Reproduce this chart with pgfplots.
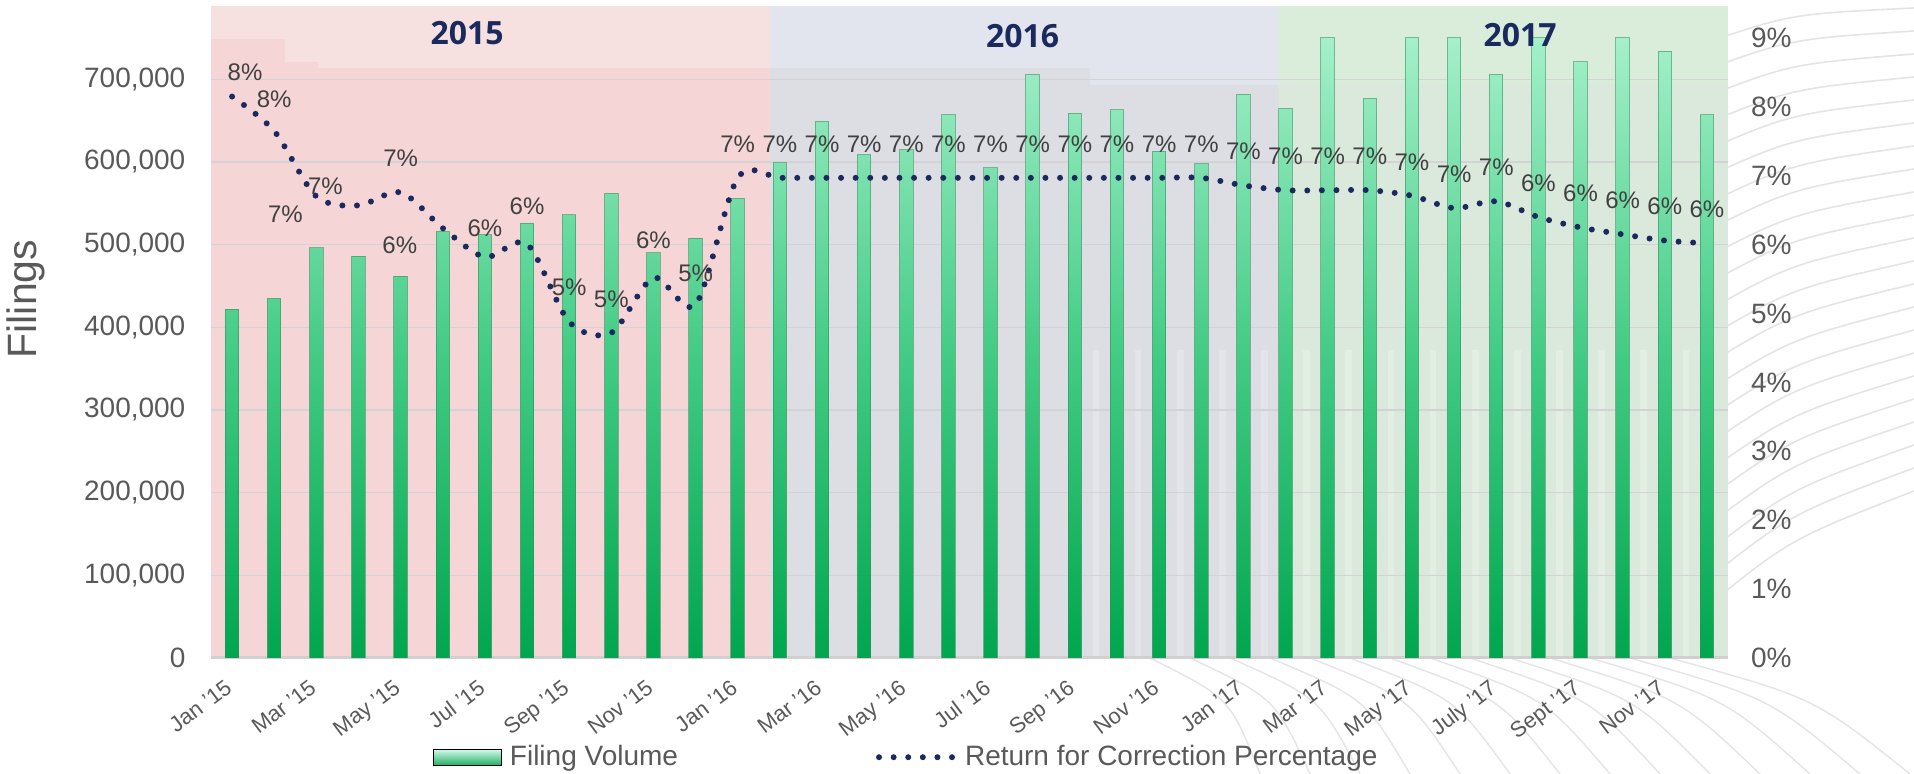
\documentclass[border=0pt]{standalone}
\usepackage{fontspec}
\setmainfont{Liberation Sans}
\newfontfamily\yearfont{Open Sans}
\usepackage{pgfplots}
\pgfplotsset{compat=1.18}
\usepackage{pgfplotstable}

\definecolor{pinkbg}{HTML}{F5D5D5}
\definecolor{pinkband}{HTML}{F6E0E0}
\definecolor{greybg}{HTML}{DCDEE4}
\definecolor{greyband}{HTML}{E3E5EE}
\definecolor{greystripe}{HTML}{E3E5EB}
\definecolor{greenbg}{HTML}{DAE9DB}
\definecolor{greenband}{HTML}{D9EDDA}
\definecolor{greenstripe}{HTML}{E3EFE3}
\definecolor{barTop}{HTML}{A4F0CA}
\definecolor{barMid}{HTML}{45CC86}
\definecolor{barBot}{HTML}{00A64E}
\definecolor{barEdge}{HTML}{2E8F5A}
\definecolor{swTop}{HTML}{D6FAEE}
\definecolor{swBot}{HTML}{22B064}
\definecolor{navy}{HTML}{1B2A5E}
\definecolor{ticktext}{HTML}{595959}
\definecolor{labeltext}{HTML}{404040}
\definecolor{gridgray}{HTML}{D3D3D6}
\definecolor{basegray}{HTML}{D0D0D0}
\definecolor{decogray}{HTML}{E4E4E8}

\pgfplotstableread{
x vol
0 422000
1 435000
2 496000
3 486000
4 462000
5 516000
6 512000
7 526000
8 536000
9 562000
10 490000
11 508000
12 556000
13 599000
14 649000
15 609000
16 615000
17 657000
18 593000
19 706000
20 659000
21 663000
22 613000
23 598000
24 682000
25 665000
26 750000
27 677000
28 750000
29 750000
30 706000
31 750000
32 721000
33 750000
34 734000
35 657000
}\voltable

\pgfplotstableread{
x pct lab dx dy
0 8.15 8 6.5 12
1 7.65 8 0 16
2 6.70 7 -15.5 -9
3 6.57 7 -16.5 9.5
4 6.76 7 0 17
5 6.24 6 -21.5 -8.5
6 5.82 6 0 14.5
7 6.01 6 0 19
8 4.88 5 0 17.5
9 4.72 5 0 17
10 5.52 6 0 18.5
11 5.13 5 0 15.5
12 6.97 7 0 17
13 6.97 7 0 17
14 6.97 7 0 17
15 6.97 7 0 17
16 6.97 7 0 17
17 6.97 7 0 17
18 6.97 7 0 17
19 6.97 7 0 17
20 6.97 7 0 17
21 6.97 7 0 17
22 6.97 7 0 17
23 6.97 7 0 17
24 6.86 7 0 17
25 6.79 7 0 17
26 6.79 7 0 17
27 6.79 7 0 17
28 6.71 7 0 17
29 6.53 7 0 17
30 6.63 7 0 17
31 6.40 6 0 17
32 6.25 6 0 17
33 6.15 6 0 17
34 6.06 6 0 17
35 6.02 6 0 17
}\pcttable

\pgfplotsset{
  common/.style={at={(0pt,0pt)}, anchor=south west, scale only axis,
    width=758.5pt, height=310pt, xmin=-0.5, xmax=35.5},
}

\begin{document}
\begin{tikzpicture}
\path[use as bounding box] (-105.5pt,-58pt) rectangle (851.5pt,329pt);

% decorative light curves in the right margin and lower right
\foreach \k in {0,...,21} {
  \draw[decogray, line width=0.8pt]
    ({(1700-211)*0.5pt},{(658-45-27*\k)*0.5pt})
    .. controls ({(1790-211)*0.5pt},{(658-14-25*\k)*0.5pt}) ..
    ({(1914-211)*0.5pt},{(658-8-23*\k)*0.5pt});
}
\foreach \k in {0,...,13} {
  \draw[decogray, line width=0.7pt]
    ({(1150+40*\k-211)*0.5pt},{(658-0)*0.5pt - 329pt + 0pt})
    .. controls ({(1230+45*\k-211)*0.5pt},{-20pt}) ..
    ({(1260+50*\k-211)*0.5pt},{-58pt});
}

% background regions
\begin{axis}[common, ymin=0, ymax=750000, hide axis, clip=false]
\fill[pinkband] (rel axis cs:0,0) rectangle (rel axis cs:0.3685,1.0516);
\fill[pinkbg] (rel axis cs:0,0) rectangle (rel axis cs:0.3685,0.9516);
\fill[pinkbg] (rel axis cs:0,0.9) rectangle (rel axis cs:0.0488,0.998);
\fill[pinkbg] (rel axis cs:0.0488,0.9) rectangle (rel axis cs:0.0705,0.961);
\fill[greyband] (rel axis cs:0.3685,0) rectangle (rel axis cs:0.704,1.0516);
\fill[greybg] (rel axis cs:0.3685,0) rectangle (rel axis cs:0.5794,0.9516);
\fill[greybg] (rel axis cs:0.5794,0) rectangle (rel axis cs:0.704,0.924);
\fill[greenband] (rel axis cs:0.704,0) rectangle (rel axis cs:1,1.0516);
\fill[greenbg] (rel axis cs:0.704,0) rectangle (rel axis cs:1,0.926);
% light dotted stripes between bars (lower part)
\fill[greystripe] (axis cs:20.42,0) rectangle (axis cs:20.58,372000);
\fill[greystripe] (axis cs:21.42,0) rectangle (axis cs:21.58,372000);
\fill[greystripe] (axis cs:22.42,0) rectangle (axis cs:22.58,372000);
\fill[greystripe] (axis cs:23.42,0) rectangle (axis cs:23.58,372000);
\fill[greystripe] (axis cs:24.42,0) rectangle (axis cs:24.58,372000);
\fill[greenstripe] (axis cs:25.42,0) rectangle (axis cs:25.58,372000);
\fill[greenstripe] (axis cs:26.42,0) rectangle (axis cs:26.58,372000);
\fill[greenstripe] (axis cs:27.42,0) rectangle (axis cs:27.58,372000);
\fill[greenstripe] (axis cs:28.42,0) rectangle (axis cs:28.58,372000);
\fill[greenstripe] (axis cs:29.42,0) rectangle (axis cs:29.58,372000);
\fill[greenstripe] (axis cs:30.42,0) rectangle (axis cs:30.58,372000);
\fill[greenstripe] (axis cs:31.42,0) rectangle (axis cs:31.58,372000);
\fill[greenstripe] (axis cs:32.42,0) rectangle (axis cs:32.58,372000);
\fill[greenstripe] (axis cs:33.42,0) rectangle (axis cs:33.58,372000);
\fill[greenstripe] (axis cs:34.42,0) rectangle (axis cs:34.58,372000);
\end{axis}

% bars
\begin{axis}[common, ymin=0, ymax=750000,
  ybar, bar width=6.75pt,
  axis x line*=bottom, axis y line*=left,
  x axis line style={draw=basegray, line width=1.5pt},
  y axis line style={draw=none},
  major tick length=0pt,
  ytick={0,100000,...,700000},
  scaled y ticks=false,
  ymajorgrids, grid style={draw=gridgray, line width=0.8pt},
  /pgf/number format/assume math mode=true,
  /pgf/number format/fixed,
  /pgf/number format/1000 sep={,},
  yticklabel style={font=\fontsize{14}{16}\selectfont, text=ticktext, xshift=-9.3pt,
     /pgf/number format/fixed, /pgf/number format/1000 sep={,}},
  xtick={0,2,...,34},
  xticklabels={Jan '15,Mar '15,May '15,Jul '15,Sep '15,Nov '15,Jan '16,Mar '16,May '16,Jul '16,Sep '16,Nov '16,Jan '17,Mar '17,May '17,July '17,Sept '17,Nov '17},
  xticklabel style={xshift=-4pt, yshift=-10pt, font=\fontsize{11}{13}\selectfont, text=ticktext,
     rotate=37, anchor=north east, inner sep=0pt},
  ylabel={Filings},
  every axis y label/.style={at={(rel axis cs:-0.122,0.579)}, rotate=90, anchor=center,
     font=\fontsize{20.5}{24}\selectfont, text=ticktext},
]
\addplot[bar shift=0pt, draw=barEdge, draw opacity=0.55, line width=0.5pt,
   top color=barTop, bottom color=barBot, middle color=barMid] table[x=x, y=vol]{\voltable};
\end{axis}

% percentage line
\begin{axis}[common, ymin=0, ymax=9,
  axis x line=none, axis y line*=right,
  y axis line style={draw=none},
  major tick length=0pt,
  ytick={0,1,...,9},
  yticklabels={0\%,1\%,2\%,3\%,4\%,5\%,6\%,7\%,8\%,9\%},
  yticklabel style={font=\fontsize{14}{16}\selectfont, text=ticktext, xshift=8pt},
  clip=false,
  legend columns=2,
  legend style={draw=none, fill=none, at={(0.459,-0.16)}, anchor=center,
     font=\fontsize{14}{16}\selectfont, text=ticktext},
  legend cell align=left,
]
\addlegendimage{legend image code/.code={\fill[top color=swTop, bottom color=swBot] (0pt,-4pt) rectangle (34pt,4pt);}}
\addlegendentry{\hspace*{2pt}Filing Volume\hspace*{97pt}}
\addplot[navy, line width=3pt, line cap=round, dash pattern=on 0pt off 7.3pt, smooth,
  legend image code/.code={\draw[navy, line width=3pt, line cap=round, dash pattern=on 0pt off 7.3pt] (1.5pt,0pt) -- (41pt,0pt);},
  point meta=explicit symbolic,
  visualization depends on={\thisrow{dx} \as \dx},
  visualization depends on={\thisrow{dy} \as \dy},
  nodes near coords={\pgfplotspointmeta\%},
  every node near coord/.style={anchor=center, xshift=\dx pt, yshift=\dy pt,
     font=\fontsize{12}{14}\selectfont, text=labeltext, inner sep=0pt, solid},
] table[x=x, y=pct, meta=lab]{\pcttable};
\addlegendentry{Return for Correction Percentage}

\node[font=\yearfont\bfseries\fontsize{16}{19}\selectfont, text=navy] at (rel axis cs:0.1688,1.008) {2015};
\node[font=\yearfont\bfseries\fontsize{16}{19}\selectfont, text=navy] at (rel axis cs:0.535,1.003) {2016};
\node[font=\yearfont\bfseries\fontsize{16}{19}\selectfont, text=navy] at (rel axis cs:0.863,1.005) {2017};
\end{axis}
\end{tikzpicture}
\end{document}
